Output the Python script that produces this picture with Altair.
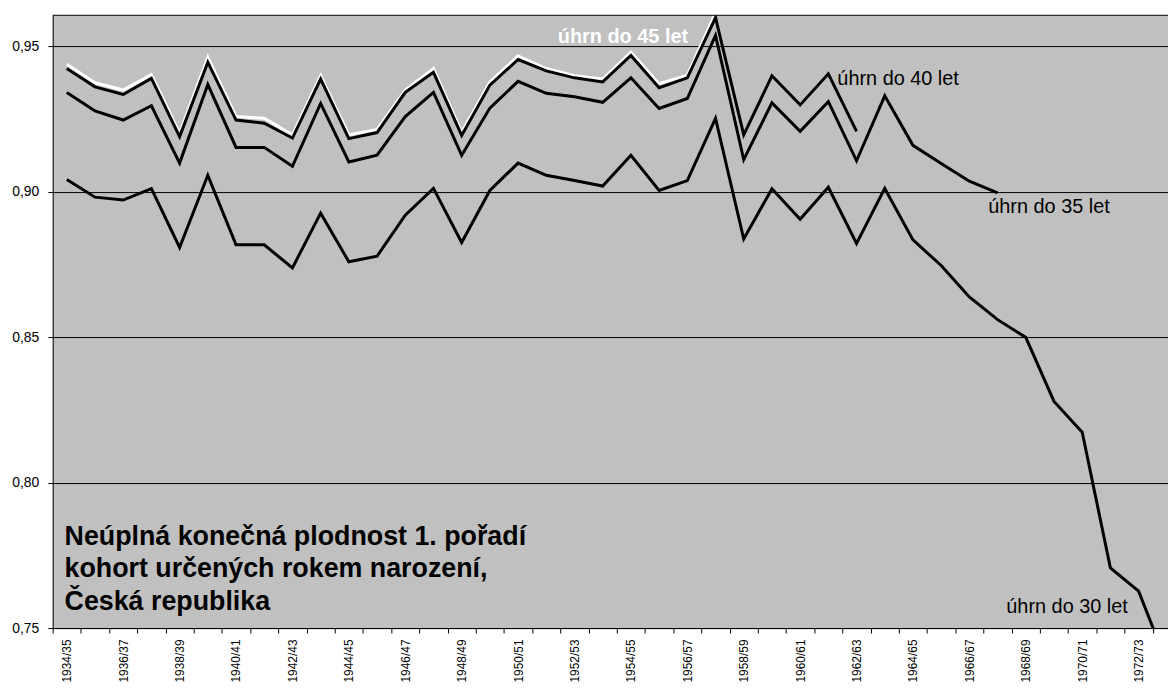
import altair as alt
import pandas as pd

cohorts = [
    "1934/35", "1935/36", "1936/37", "1937/38", "1938/39", "1939/40", "1940/41", "1941/42",
    "1942/43", "1943/44", "1944/45", "1945/46", "1946/47", "1947/48", "1948/49", "1949/50",
    "1950/51", "1951/52", "1952/53", "1953/54", "1954/55", "1955/56", "1956/57", "1957/58",
    "1958/59", "1959/60", "1960/61", "1961/62", "1962/63", "1963/64", "1964/65", "1965/66",
    "1966/67", "1967/68", "1968/69", "1969/70", "1970/71", "1971/72", "1972/73", "1973/74",
]

do30 = [0.9042, 0.8981, 0.8971, 0.9010, 0.8808, 0.9056, 0.8817, 0.8817, 0.8738, 0.8926,
        0.8759, 0.8778, 0.8919, 0.9011, 0.8825, 0.9004, 0.9098, 0.9056, 0.9038, 0.9019,
        0.9125, 0.9004, 0.9038, 0.9252, 0.8837, 0.9010, 0.8905, 0.9015, 0.8822, 0.9011,
        0.8834, 0.8746, 0.8638, 0.8560, 0.8499, 0.8279, 0.8173, 0.7707, 0.7627, 0.7380]
do35 = [0.9341, 0.9277, 0.9246, 0.9295, 0.9098, 0.9368, 0.9152, 0.9152, 0.9087, 0.9303,
        0.9102, 0.9125, 0.9258, 0.9341, 0.9125, 0.9287, 0.9379, 0.9338, 0.9326, 0.9307,
        0.9391, 0.9286, 0.9320, 0.9537, 0.9110, 0.9305, 0.9207, 0.9309, 0.9106, 0.9329,
        0.9159, 0.9097, 0.9036, 0.8996]
do40 = [0.9423, 0.9360, 0.9334, 0.9389, 0.9189, 0.9445, 0.9246, 0.9235, 0.9184, 0.9387,
        0.9182, 0.9203, 0.9341, 0.9410, 0.9193, 0.9366, 0.9454, 0.9415, 0.9391, 0.9377,
        0.9468, 0.9357, 0.9391, 0.9598, 0.9195, 0.9398, 0.9298, 0.9405, 0.9207]
do45 = [0.9438, 0.9374, 0.9349, 0.9402, 0.9201, 0.9462, 0.9258, 0.9252, 0.9195, 0.9398,
        0.9195, 0.9214, 0.9349, 0.9423, 0.9204, 0.9377, 0.9466, 0.9423, 0.9398, 0.9387,
        0.9479, 0.9371, 0.9400, 0.9615]

series_names = ["úhrn do 45 let", "úhrn do 40 let", "úhrn do 35 let", "úhrn do 30 let"]
series_vals = [do45, do40, do35, do30]

rows = []
for name, vals in zip(series_names, series_vals):
    for i, v in enumerate(vals):
        rows.append({"idx": i, "kohorta": cohorts[i], "serie": name, "hodnota": v})
df = pd.DataFrame(rows)

title_lines = ["Neúplná konečná plodnost 1. pořadí",
               "kohort určených rokem narození,",
               "Česká republika"]

W = 1123
H = 617
BAND = 28.4
XMAX = -0.5 + W / BAND
FONT = "Liberation Sans"

labels_js = "[" + ",".join("'%s'" % c for c in cohorts) + "]"
xvals = [k / 2 - 0.5 for k in range(0, 82) if k / 2 - 0.5 <= XMAX]

x_enc = alt.X(
    "idx:Q",
    scale=alt.Scale(domain=[-0.5, XMAX], nice=False, zero=False),
    axis=alt.Axis(
        title=None,
        values=xvals,
        tickCount=500,
        grid=False,
        domain=True, domainColor="black", domainWidth=1,
        ticks=True, tickColor="black", tickSize=5, tickWidth=1,
        tickOpacity={"condition": {"test": "datum.value % 1 !== 0", "value": 1}, "value": 0},
        labelExpr="datum.value % 2 === 0 ? " + labels_js + "[datum.value] : ''",
        labelAngle=270, labelAlign="right", labelBaseline="middle",
        labelPadding=6, labelFontSize=12, labelFont=FONT, labelColor="black",
        labelOverlap=False, labelFlush=False, labelBound=False,
    ),
)
y_enc = alt.Y(
    "hodnota:Q",
    scale=alt.Scale(domain=[0.75, 0.9606], nice=False, zero=False),
    axis=alt.Axis(
        title=None,
        values=[0.75, 0.80, 0.85, 0.90, 0.95],
        grid=True, gridColor="black", gridOpacity=1, gridWidth=1,
        domain=True, domainColor="black", domainWidth=1,
        tickColor="black", tickSize=5, tickWidth=1,
        labelExpr="replace(format(datum.value, '.2f'), '.', ',')",
        labelFontSize=14, labelFont=FONT, labelColor="black", labelPadding=9,
    ),
)

base = alt.Chart(df)
white_line = base.transform_filter(alt.datum.serie == "úhrn do 45 let").mark_line(
    color="white", strokeWidth=3, clip=True
).encode(x=x_enc, y=y_enc)
black_lines = base.transform_filter(alt.datum.serie != "úhrn do 45 let").mark_line(
    color="black", strokeWidth=3, clip=True
).encode(x=x_enc, y=y_enc, detail="serie:N")

one = alt.Chart(pd.DataFrame({"a": [0]}))
top_border = one.mark_rule(color="black", strokeWidth=1).encode(
    x=alt.value(0), x2=alt.value(W), y=alt.value(0)
)

def label(text, xi, yv, bold=False, color="black", size=20):
    return one.mark_text(
        text=text, align="left", baseline="alphabetic", font=FONT, fontSize=size,
        fontWeight="bold" if bold else "normal", color=color,
    ).encode(x=alt.datum(xi), y=alt.datum(yv))

lab45 = label("úhrn do 45 let", 17.41, 0.9511, bold=True, color="white")
lab40 = label("úhrn do 40 let", 27.32, 0.9366)
lab35 = label("úhrn do 35 let", 32.67, 0.8928)
lab30 = label("úhrn do 30 let", 33.31, 0.7551)

title = one.mark_text(
    text=title_lines, align="left", baseline="alphabetic", font=FONT, fontSize=27,
    fontWeight="bold", color="black", lineHeight=33,
).encode(x=alt.datum(-0.08), y=alt.datum(0.7787))

chart = alt.layer(
    white_line, black_lines, top_border, lab45, lab40, lab35, lab30, title
).properties(
    width=W, height=H,
    autosize=alt.AutoSizeParams(type="none"),
    padding={"left": 45, "top": 5, "right": 0, "bottom": 56},
    background="white",
).configure_view(fill="#C0C0C0", strokeWidth=0)

chart.save("out.html", embed_options={"renderer": "svg", "actions": False})
